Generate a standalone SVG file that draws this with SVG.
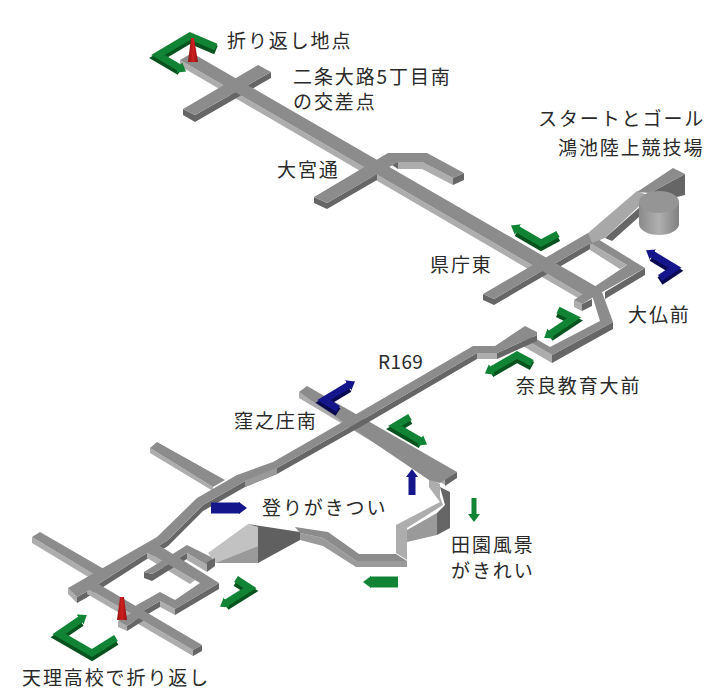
<svg xmlns="http://www.w3.org/2000/svg" width="718" height="690" viewBox="0 0 718 690">
<style>
.t{fill:#8c8c8c}.l{fill:#adadad}.d{fill:#666}.m{fill:#9a9a9a}
.lab{font-family:"Noto Sans CJK JP","Liberation Sans",sans-serif;font-size:19px;letter-spacing:1.9px;fill:#2a2a2a}
.gs{fill:none;stroke:#07521d;stroke-width:9}.gt{fill:none;stroke:#108434;stroke-width:7;marker-end:url(#hg)}
.bs{fill:none;stroke:#0a0a50;stroke-width:9}.bt{fill:none;stroke:#16168c;stroke-width:7;marker-end:url(#hb)}
</style>
<defs>
<marker id="hg" markerUnits="userSpaceOnUse" markerWidth="9" markerHeight="14" refX="1" refY="7" orient="auto"><path d="M0 1L8 7L0 13Z" fill="#108434"/></marker>
<marker id="hb" markerUnits="userSpaceOnUse" markerWidth="9" markerHeight="14" refX="1" refY="7" orient="auto"><path d="M0 1L8 7L0 13Z" fill="#16168c"/></marker>
<linearGradient id="cyl"><stop offset="0" stop-color="#8a8a8a"/><stop offset=".5" stop-color="#b0b0b0"/><stop offset="1" stop-color="#808080"/></linearGradient>
<linearGradient id="cone"><stop offset="0" stop-color="#8f1010"/><stop offset=".5" stop-color="#d02020"/><stop offset="1" stop-color="#8f1010"/></linearGradient>
</defs>
<rect width="718" height="690" fill="#fff"/>
<g id="roads-north">
<polygon class="l" points="180,60 585,296 585,302 180,66"/>
<polygon class="d" points="183,109 195,115 271,72 271,78 195,122 183,115"/>
<polygon class="d" points="327,203 377,174 377,180 327,209 314,203 314,197"/>
<polygon class="d" points="453,178 464,173 464,180 453,185"/>
<polygon class="l" points="398,162 422,162 453,178 453,185 422,169 398,169"/>
<polygon class="d" points="386,161 398,157 398,169"/>
<polygon class="d" points="483,294 494,299 592,242 592,248 494,305 483,300"/>
<polygon class="d" points="605,238 640,207 640,216 612,241"/>
<polygon class="d" points="650,193 685,174 685,195 677,197"/>
<polygon class="l" points="590,243 627,265 620,269 590,250"/>
<polygon class="d" points="645,268 605,292 605,299 645,275"/>
<polygon class="l" points="574,300 582,304 582,311 574,307"/>
<polygon class="d" points="582,304 592,299 592,306 582,311"/>
<polygon class="d" points="552,355 613,322 613,329 552,363"/>
<polygon class="l" points="521,337 552,355 552,363 521,345"/>
<polygon class="t" points="192,53 597,287 585,296 180,60"/>
<polygon class="t" points="258,65 271,72 195,115 183,109"/>
<polygon class="t" points="314,197 388,153 427,153 464,173 453,178 422,162 398,162 327,203"/>
<polygon class="t" points="483,294 588,233 592,242 494,299"/>
<polygon class="t" points="588,233 645,268 597,295 582,304 574,300 597,285 627,265 590,243"/>
<polygon class="t" points="592,295 602,292 613,322 552,355 521,337 521,330 550,347 600,321"/>
<polygon fill="#a8a8a8" points="588,233 637,191 650,196 605,238 592,243"/>
<polygon class="t" points="637,192 673,168 685,174 650,193"/>
</g>
<g id="stadium">
<path d="M639 202V224A20 11 0 0 0 679 224V202Z" fill="url(#cyl)"/>
<ellipse cx="659" cy="202" rx="20" ry="11" fill="#959595"/>
</g>
<g id="roads-south">
<polygon fill="#666" points="440,487 450,492 450,528 437,535 437,513 445,505"/>
<polygon class="m" points="407,530 437,513 437,535 407,542"/>
<polygon class="l" points="429,478 440,484 440,497 443,505 407,528 407,560 396,553 396,525 440,502 429,487"/>
<polygon class="l" points="299,392 445,479 445,485 299,398"/>
<polygon class="d" points="445,479 457,472 457,478 445,486"/>
<polygon class="t" points="307,386 457,472 440,483 429,480 299,392"/>
<polygon class="d" points="77,597 86,592 147,553 157,547 168,540 203,505 245,481 277,468 362,420 477,353 497,353 537,335 537,341 497,359 477,359 362,426 277,474 245,487 203,511 168,546 157,553 147,559 86,598 77,603"/>
<polygon class="m" points="245,481 277,468 277,474 245,487"/>
<polygon class="l" points="477,353 497,353 497,359 477,359"/>
<polygon class="l" points="68,588 77,597 77,603 68,594"/>
<polygon class="l" points="150,448 213,487 213,491 150,453"/>
<polygon class="l" points="32,537 95,575 90,578 32,543"/>
<polygon class="l" points="87,588 193,650 193,656 87,594"/>
<polygon class="d" points="193,650 202,645 202,651 193,656"/>
<polygon class="d" points="219,583 219,589 175,615 175,609"/>
<polygon class="l" points="160,601 175,609 175,615 160,607"/>
<polygon class="d" points="143,611 160,601 160,607 143,617"/>
<polygon class="l" points="147,552 195,580 190,584 147,558"/>
<polygon class="d" points="152,574 187,553 187,559 152,581 144,578 144,572"/>
<polygon class="d" points="207,565 215,559 215,566 207,572"/>
<polygon class="l" points="187,553 207,565 207,572 187,560"/>
<polygon class="l" points="118,621 127,626 127,631 118,627"/>
<polygon class="d" points="127,626 143,615 143,621 127,631"/>
<polygon class="t" points="537,332 525,326 495,346 473,346 353,416 273,462 237,475 197,498 157,537 68,588 77,597 86,592 147,553 157,547 168,540 203,505 245,481 277,468 362,420 477,353 497,353 537,335"/>
<polygon class="t" points="157,442 225,480 213,487 150,448"/>
<polygon class="t" points="40,532 104,569 95,575 32,537"/>
<polygon class="t" points="95,582 202,645 193,650 87,588"/>
<polygon class="t" points="148,548 157,544 219,583 175,609 160,601 143,611 135,606 160,592 175,600 200,583 147,552"/>
<polygon class="t" points="144,572 187,545 215,559 207,565 187,553 152,574"/>
<polygon class="t" points="118,621 135,611 143,615 127,626"/>
<polygon fill="#c2c2c2" points="208,553 248,524 258,527 258,546 215,563"/>
<polygon class="m" points="215,563 258,546 258,563"/>
<polygon fill="#606060" points="248,524 300,532 300,540 258,563 258,527"/>
<polygon class="m" points="300,533 323,538 356,561 407,561 407,567 356,567 323,546 300,540"/>
<polygon class="t" points="295,527 328,532 359,554 396,554 407,561 356,561 323,538 300,533"/>
<polygon class="d" points="207,562 215,558 215,565 207,570"/>
</g>
<g id="arrows">
<path class="gs" d="M216 50L190 39L158 58L180 71"/>
<path class="gt" d="M216 47L190 36L158 55L180 68"/>
<path class="gs" d="M558 237L541 246L517 232"/>
<path class="gt" d="M558 234L541 243L517 229"/>
<path class="bs" d="M660 281L675 271L652 257"/>
<path class="bt" d="M660 278L675 268L652 254"/>
<path class="gs" d="M558 313L574 321L550 337"/>
<path class="gt" d="M558 310L574 318L550 334"/>
<path class="gs" d="M532 366L517 358L491 373"/>
<path class="gt" d="M532 363L517 355L491 370"/>
<path class="bs" d="M338 412L324 403L349 388"/>
<path class="bt" d="M338 409L324 400L349 385"/>
<path class="gs" d="M410 420L395 429L421 444"/>
<path class="gt" d="M410 417L395 426L421 441"/>
<path class="bt" d="M412 495V476"/>
<path class="gt" d="M474 498V515" style="stroke-width:5"/>
<path class="gt" d="M398 582H370" style="stroke-width:11"/>
<path class="bt" d="M211 508H240" style="stroke-width:11"/>
<path class="gs" d="M236 582L250 591L226 606"/>
<path class="gt" d="M236 579L250 588L226 603"/>
<path class="gs" d="M116 641L92 656L59 637L81 622"/>
<path class="gt" d="M116 638L92 653L59 634L81 619"/>
</g>
<g id="cones">
<polygon fill="url(#cone)" points="191,38 194,38 198,62 188,62"/>
<polygon fill="url(#cone)" points="120,597 124,597 127,620 117,620"/>
</g>
<g id="labels">
<text class="lab" x="227" y="48">折り返し地点</text>
<text class="lab" x="293" y="84">二条大路5丁目南</text>
<text class="lab" x="293" y="109">の交差点</text>
<text class="lab" x="538" y="126">スタートとゴール</text>
<text class="lab" x="558" y="155">鴻池陸上競技場</text>
<text class="lab" x="277" y="177">大宮通</text>
<text class="lab" x="430" y="272">県庁東</text>
<text class="lab" x="628" y="322">大仏前</text>
<text class="lab" x="378" y="369" style="letter-spacing:.4px">R169</text>
<text class="lab" x="516" y="393">奈良教育大前</text>
<text class="lab" x="234" y="428">窪之庄南</text>
<text class="lab" x="262" y="515">登りがきつい</text>
<text class="lab" x="451" y="552">田園風景</text>
<text class="lab" x="451" y="578">がきれい</text>
<text class="lab" x="22" y="685">天理高校で折り返し</text>
</g>
</svg>
